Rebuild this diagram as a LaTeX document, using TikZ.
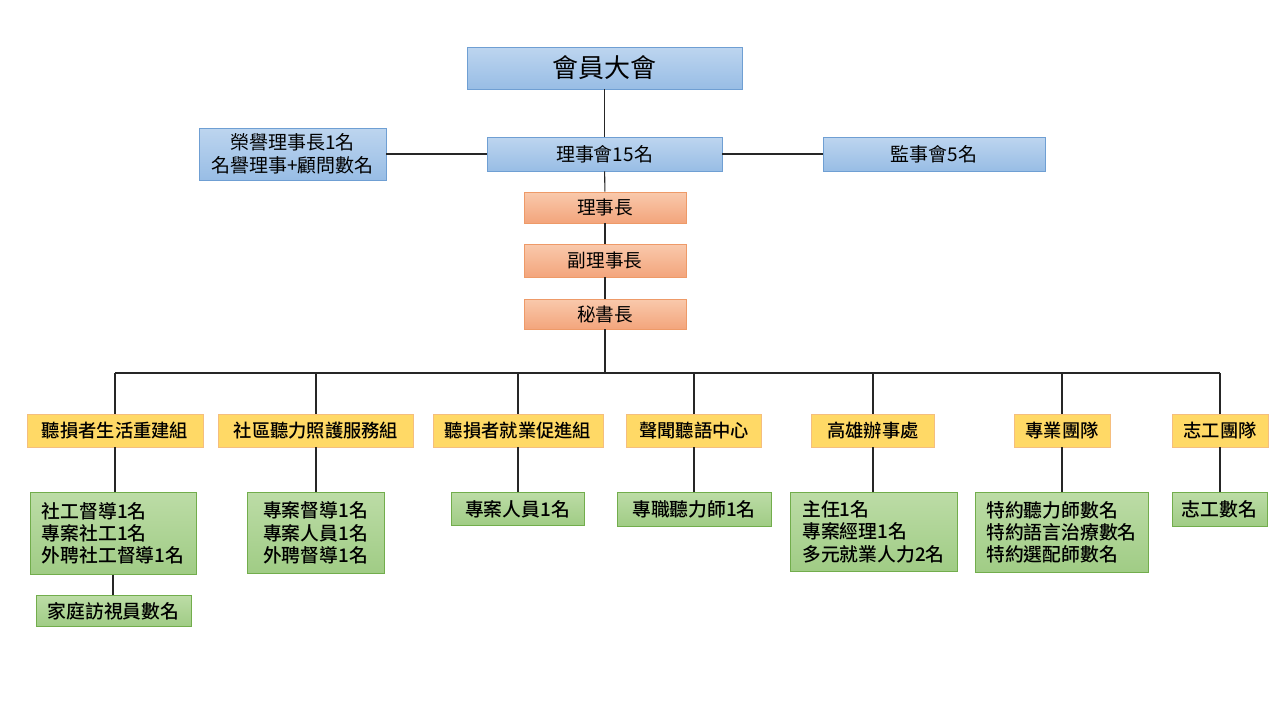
\documentclass[tikz,border=0pt]{standalone}
\usepackage{fontspec}
\setmainfont{Noto Sans CJK TC}[BoldFont={* Medium}]

\definecolor{bluetop}{HTML}{BDD5EF}
\definecolor{bluebot}{HTML}{98BDE5}
\definecolor{blueline}{HTML}{6F9FD3}
\definecolor{orangetop}{HTML}{F9C9AC}
\definecolor{orangebot}{HTML}{F3A57C}
\definecolor{orangeline}{HTML}{EE9A68}
\definecolor{yellowfill}{HTML}{FFD966}
\definecolor{yellowline}{HTML}{F5BE7E}
\definecolor{greentop}{HTML}{BCDCA6}
\definecolor{greenbot}{HTML}{A0CC85}
\definecolor{greenline}{HTML}{72AD4C}

\tikzset{
	bluebox/.style={draw=blueline, top color=bluetop, bottom color=bluebot, inner sep=0pt, align=center, font=\fontsize{10.8}{13}\selectfont},
	orangebox/.style={draw=orangeline, top color=orangetop, bottom color=orangebot, inner sep=0pt, minimum width=3.24cm, font=\fontsize{10.6}{12}\selectfont},
	yellowbox/.style={draw=yellowline, fill=yellowfill, inner sep=0pt, minimum height=0.66cm, font=\bfseries\fontsize{10.4}{12}\selectfont},
	greenbox/.style={draw=greenline, top color=greentop, bottom color=greenbot, inner sep=0pt, anchor=north, align=left, font=\bfseries\fontsize{10.7}{12.7}\selectfont},
	link/.style={draw=black!85, line width=0.6pt}
}

\begin{document}
\begin{tikzpicture}[x=0.02cm,y=-0.02cm]

		\useasboundingbox (0,0) rectangle (1280,720);

		% top level
		\node[bluebox, minimum width=5.5cm, minimum height=0.84cm, font=\fontsize{14.8}{16}\selectfont] (assembly) at (604.5,68) {會員大會};
		\node[bluebox, minimum width=4.7cm, minimum height=0.68cm] (board) at (604.5,154) {理事會15名};
		\node[bluebox, minimum width=3.74cm, minimum height=1.04cm] (honor) at (292.5,154) {榮譽理事長1名\\名譽理事+顧問數名};
		\node[bluebox, minimum width=4.44cm, minimum height=0.68cm] (supervisors) at (934,154) {監事會5名};

		\node[orangebox, minimum height=0.62cm] (chair) at (605,207.5) {理事長};
		\node[orangebox, minimum height=0.66cm] (vice) at (605,260.5) {副理事長};
		\node[orangebox, minimum height=0.6cm] (secretary) at (605,314) {秘書長};

		\draw[link] (assembly) -- (board);
		\draw[link] (honor) -- (board);
		\draw[link] (board) -- (supervisors);
		\draw[link] (board) -- (chair);
		\draw[link] (chair) -- (vice);
		\draw[link] (vice) -- (secretary);

		% departments
		\foreach \x/\w/\name/\txt in {115/3.52/d1/聽損者生活重建組,316/3.9/d2/社區聽力照護服務組,518/3.4/d3/聽損者就業促進組,694/2.7/d4/聲聞聽語中心,873/2.46/d5/高雄辦事處,1062/1.92/d6/專業團隊,1220/1.92/d7/志工團隊}
		\node[yellowbox, minimum width=\w cm] (\name) at (\x,430.5) {\txt};

		\coordinate (bus) at (605,373);
		\draw[link] (secretary) -- (bus);
		\draw[link] (d1.north |- bus) -- (d7.north |- bus);
		\foreach \name in {d1,d2,d3,d4,d5,d6,d7}
		\draw[link] (\name.north) -- (\name.north |- bus);

		% staff
		\node[greenbox, minimum width=3.32cm, minimum height=1.64cm] (g1) at (113,492) {社工督導1名\\專案社工1名\\外聘社工督導1名};
		\node[greenbox, minimum width=3.1cm, minimum height=0.62cm] (g1b) at (113.5,595) {家庭訪視員數名};
		\node[greenbox, minimum width=2.74cm, minimum height=1.62cm, align=center] (g2) at (315.5,492) {專案督導1名\\專案人員1名\\外聘督導1名};
		\node[greenbox, minimum width=2.66cm, minimum height=0.66cm] (g3) at (517.5,492) {專案人員1名};
		\node[greenbox, minimum width=3.08cm, minimum height=0.68cm] (g4) at (694,492) {專職聽力師1名};
		\node[greenbox, minimum width=3.34cm, minimum height=1.58cm] (g5) at (873.5,492) {主任1名\\專案經理1名\\多元就業人力2名};
		\node[greenbox, minimum width=3.46cm, minimum height=1.6cm] (g6) at (1061.5,492) {特約聽力師數名\\特約語言治療數名\\特約選配師數名};
		\node[greenbox, minimum width=1.9cm, minimum height=0.68cm] (g7) at (1219.5,492) {志工數名};

		\foreach \a/\b in {d1/g1,g1/g1b,d2/g2,d3/g3,d4/g4,d5/g5,d6/g6,d7/g7}
		\draw[link] (\a.south) -- (\a.south |- \b.north);

\end{tikzpicture}
\end{document}
